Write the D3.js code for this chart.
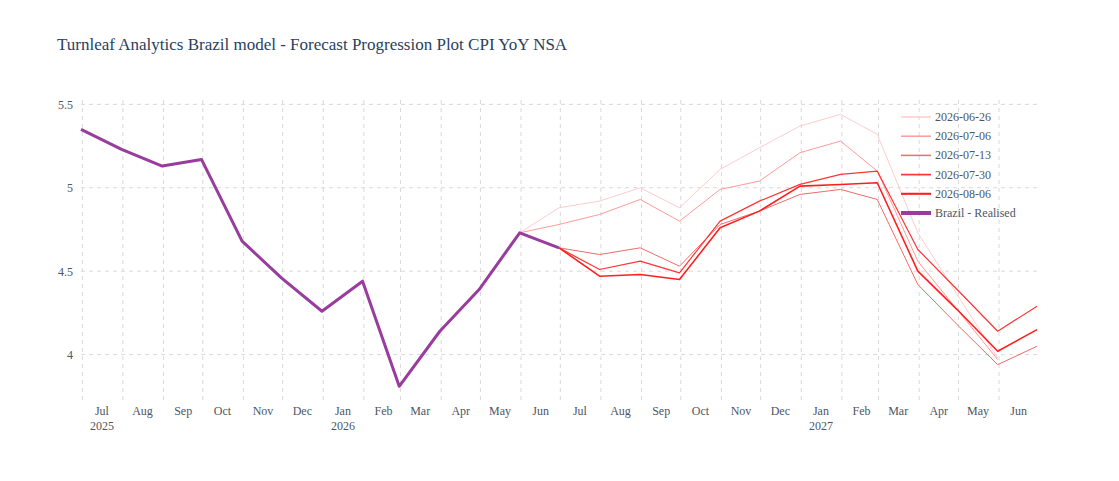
<!DOCTYPE html>
<html>
<head>
<meta charset="utf-8">
<script src="https://cdn.jsdelivr.net/npm/d3@7"></script>
<style>
  body { margin: 0; background: #fff; }
  text { font-family: "Liberation Serif", "Times New Roman", serif; }
</style>
</head>
<body>
<script>
var width = 1119;
var height = 481;
var margin = { top: 100, bottom: 80, right: 82, left: 81 };

// realised series (month-end dates)
var realisedDates = ["2025-06-30", "2025-07-31", "2025-08-31", "2025-09-30", "2025-10-31", "2025-11-30",
  "2025-12-31", "2026-01-31", "2026-02-28", "2026-03-31", "2026-04-30", "2026-05-31", "2026-06-30"];
var realised = [5.35, 5.23, 5.13, 5.17, 4.68, 4.46, 4.26, 4.44, 3.81, 4.14, 4.39, 4.73, 4.64];

// forecast vintages
var datesFromMay = ["2026-05-31", "2026-06-30", "2026-07-31", "2026-08-31", "2026-09-30", "2026-10-31",
  "2026-11-30", "2026-12-31", "2027-01-31", "2027-02-28", "2027-03-31", "2027-04-30", "2027-05-31"];
var datesFromJun = ["2026-06-30", "2026-07-31", "2026-08-31", "2026-09-30", "2026-10-31", "2026-11-30",
  "2026-12-31", "2027-01-31", "2027-02-28", "2027-03-31", "2027-04-30", "2027-05-31", "2027-06-30"];

var f0626 = [4.73, 4.88, 4.92, 5.00, 4.88, 5.11, 5.24, 5.37, 5.44, 5.32, 4.73, 4.36, 3.98];
var f0706 = [4.73, 4.78, 4.84, 4.93, 4.80, 4.99, 5.04, 5.21, 5.28, 5.10, 4.56, 4.27, 3.97];
var f0713 = [4.64, 4.60, 4.64, 4.53, 4.78, 4.86, 4.96, 4.99, 4.93, 4.42, 4.18, 3.94, 4.05];
var f0730 = [4.64, 4.51, 4.56, 4.49, 4.80, 4.92, 5.02, 5.08, 5.10, 4.63, 4.39, 4.14, 4.29];
var f0806 = [4.64, 4.47, 4.48, 4.45, 4.76, 4.86, 5.01, 5.02, 5.03, 4.50, 4.27, 4.02, 4.15];

var yTicks = [4, 4.5, 5, 5.5];
var xDomain = ["2025-06-30", "2027-06-30"];
var yDomain = [3.722, 5.526];

var parse = d3.utcParse("%Y-%m-%d");

var series = [
  { name: "2026-06-26", dates: datesFromMay, values: f0626, color: "#ffcccc", w: 1 },
  { name: "2026-07-06", dates: datesFromMay, values: f0706, color: "#ff9a9a", w: 1 },
  { name: "2026-07-13", dates: datesFromJun, values: f0713, color: "#f26a6a", w: 1 },
  { name: "2026-07-30", dates: datesFromJun, values: f0730, color: "#ff3434", w: 1.2 },
  { name: "2026-08-06", dates: datesFromJun, values: f0806, color: "#ff1f1f", w: 1.6 },
  { name: "Brazil - Realised", dates: realisedDates, values: realised, color: "#983c9e", w: 3 }
];

var svg = d3
  .select("body")
  .append("svg")
  .attr("width", width)
  .attr("height", height);

var xScale = d3
  .scaleUtc()
  .domain(xDomain.map(parse))
  .range([margin.left, width - margin.right]);

var yScale = d3
  .scaleLinear()
  .domain(yDomain)
  .range([height - margin.bottom, margin.top]);

// grid lines
var months = d3.utcMonth.range(d3.utcMonth.ceil(xScale.domain()[0]), xScale.domain()[1]);

svg
  .append("g")
  .selectAll("line")
  .data(months)
  .enter()
  .append("line")
  .attr("x1", (d) => xScale(d))
  .attr("x2", (d) => xScale(d))
  .attr("y1", margin.top)
  .attr("y2", height - margin.bottom)
  .attr("stroke", "#d9d9d9")
  .attr("stroke-width", 1)
  .attr("stroke-dasharray", "4,4");

svg
  .append("g")
  .selectAll("line")
  .data(yTicks)
  .enter()
  .append("line")
  .attr("x1", margin.left)
  .attr("x2", width - margin.right)
  .attr("y1", (d) => yScale(d))
  .attr("y2", (d) => yScale(d))
  .attr("stroke", "#d9d9d9")
  .attr("stroke-width", 1)
  .attr("stroke-dasharray", "4,4");

// y axis
var axisy = d3.axisLeft(yScale).tickValues(yTicks).tickSize(0).tickPadding(6).tickFormat(d3.format("~g"));
var gy = svg
  .append("g")
  .attr("transform", "translate(" + (margin.left - 2) + ",0)")
  .call(axisy);
gy.select(".domain").remove();
gy.selectAll("text").attr("fill", "#4d5663").attr("font-size", "12px")
  .style("font-family", "'Liberation Serif', serif");

// x axis labels, centered in each month period
var labelMonths = months.filter((d) => {
  var mid = d3.utcDay.offset(d, 15);
  return mid <= xScale.domain()[1];
});
labelMonths.unshift(d3.utcMonth.floor(xScale.domain()[0]));
labelMonths = labelMonths.filter((d) => xScale(d3.utcDay.offset(d, 15)) >= margin.left);

var gx = svg.append("g");
gx.selectAll("text.month")
  .data(labelMonths)
  .enter()
  .append("text")
  .attr("class", "month")
  .attr("x", (d) => xScale(d3.utcDay.offset(d, 15)))
  .attr("y", 415)
  .attr("text-anchor", "middle")
  .attr("font-size", "12px")
  .attr("fill", "#4d5663")
  .text((d) => d3.utcFormat("%b")(d));

gx.selectAll("text.year")
  .data(labelMonths.filter((d, i) => i === 0 || d.getUTCMonth() === 0))
  .enter()
  .append("text")
  .attr("class", "year")
  .attr("x", (d) => xScale(d3.utcDay.offset(d, 15)))
  .attr("y", 430)
  .attr("text-anchor", "middle")
  .attr("font-size", "12px")
  .attr("fill", "#4d5663")
  .text((d) => d3.utcFormat("%Y")(d));

// lines
var line = d3
  .line()
  .x((d) => xScale(d[0]))
  .y((d) => yScale(d[1]));

svg
  .append("g")
  .selectAll("path")
  .data(series)
  .enter()
  .append("path")
  .attr("fill", "none")
  .attr("stroke", (d) => d.color)
  .attr("stroke-width", (d) => d.w)
  .attr("stroke-linejoin", "round")
  .attr("d", (d) => line(d.dates.map((t, i) => [parse(t), d.values[i]])));

// legend
var legend = svg
  .append("g")
  .attr("transform", "translate(901,117)");

var item = legend
  .selectAll("g")
  .data(series)
  .enter()
  .append("g")
  .attr("transform", (d, i) => "translate(0," + i * 19.2 + ")");

item
  .append("line")
  .attr("x1", 0)
  .attr("x2", 30)
  .attr("stroke", (d) => d.color)
  .attr("stroke-width", (d) => (d.w > 2 ? 4 : d.w + 0.5));

item
  .append("text")
  .attr("x", 34)
  .attr("y", 4)
  .attr("font-size", "12px")
  .attr("fill", "#4d5663")
  .text((d) => d.name);

// title
svg
  .append("text")
  .attr("x", 57)
  .attr("y", 50)
  .attr("font-size", "17px")
  .attr("fill", "#2a3f5f")
  .text("Turnleaf Analytics Brazil model - Forecast Progression Plot CPI YoY NSA");
</script>
</body>
</html>
